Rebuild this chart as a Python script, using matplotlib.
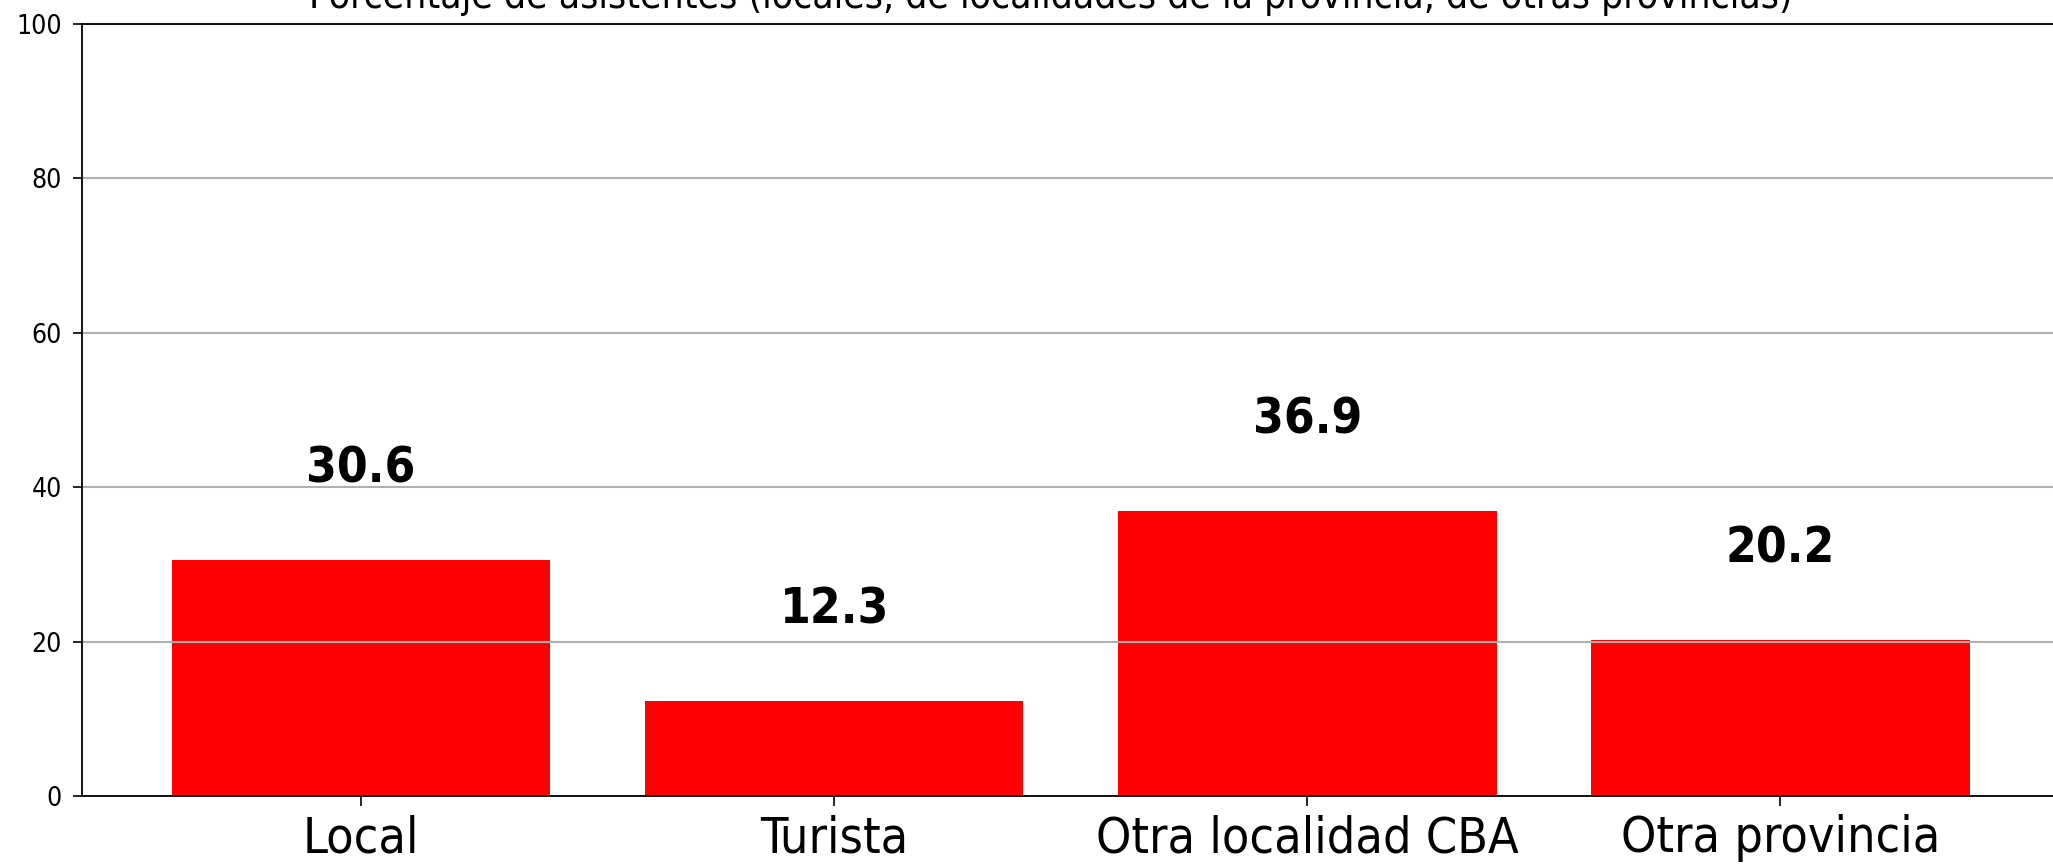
import matplotlib
matplotlib.use('Agg')
import matplotlib.pyplot as plt

# datos
categorias = ['Local', 'Turista', 'Otra localidad CBA', 'Otra provincia']
porcentajes = [30.6, 12.3, 36.9, 20.2]
titulo = 'Porcentaje de asistentes (locales, de localidades de la provincia, de otras provincias)'

plt.rcParams['font.family'] = ['DejaVu Sans']
plt.rcParams['font.stretch'] = 'condensed'

fig = plt.figure(figsize=(20.53, 8.64), dpi=100)
# el grafico original esta recortado a la derecha y arriba
ax = fig.add_axes([82 / 2053, 68 / 864, 1977.5 / 2053, 772 / 864])

ax.bar(categorias, porcentajes, color='red', width=0.8)
ax.set_ylim(0, 100)
ax.grid(axis='y', color='#b0b0b0', linewidth=1.5)

for i, v in enumerate(porcentajes):
    ax.text(i, v + 10, str(v), ha='center', va='baseline',
            fontsize=35.5, fontweight='bold')

ax.set_title(titulo, fontsize=28, pad=11.5, x=0.49)
ax.tick_params(axis='y', labelsize=19, length=6.5, width=1.2, pad=8)
ax.tick_params(axis='x', labelsize=36, length=7, width=1.2, pad=6)
for s in ax.spines.values():
    s.set_linewidth(1.3)

fig.savefig('out.png', dpi=100)
